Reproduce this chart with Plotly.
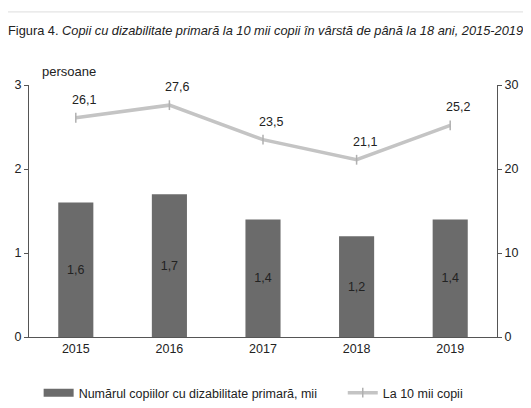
import plotly.graph_objects as go

years = ["2015", "2016", "2017", "2018", "2019"]
numar_copii = [1.6, 1.7, 1.4, 1.2, 1.4]
la_10_mii = [26.1, 27.6, 23.5, 21.1, 25.2]
bar_labels = ["1,6", "1,7", "1,4", "1,2", "1,4"]
line_labels = ["26,1", "27,6", "23,5", "21,1", "25,2"]

FONT = "Liberation Sans Narrow, Arial Narrow, Liberation Sans, sans-serif"
TXT = "#222222"
BAR_C = "#6b6b6b"
BAR_NAME = "Numărul copiilor cu dizabilitate primară, mii"

fig = go.Figure()
fig.add_trace(go.Bar(
    x=years, y=numar_copii, name=BAR_NAME, showlegend=False, legendgroup="bar",
    marker=dict(color=BAR_C, line=dict(width=0)), width=0.375,
    text=bar_labels, textposition="inside", insidetextanchor="middle",
    textfont=dict(color=TXT, size=12.5, family=FONT),
    yaxis="y",
))
# legend-only entry so the key is drawn as a wide rectangle like the original
fig.add_trace(go.Scatter(
    x=[None], y=[None], name=BAR_NAME + "\u00a0" * 6, mode="lines", legendgroup="bar",
    line=dict(color=BAR_C, width=8), hoverinfo="skip",
))
fig.add_trace(go.Scatter(
    x=years, y=la_10_mii, name="La 10 mii copii", mode="lines+markers",
    line=dict(color="#c4c4c4", width=3.5),
    marker=dict(symbol="line-ns", size=7, line=dict(color="#b0b0b0", width=1.5), color="#b0b0b0"),
    yaxis="y2",
))
for i, (v, t) in enumerate(zip(la_10_mii, line_labels)):
    fig.add_annotation(x=i, xref="x", y=v, yref="y2", text=t, showarrow=False,
                       yshift=18, xshift=8, font=dict(size=12.5, color=TXT, family=FONT))

fig.update_layout(
    width=523, height=400,
    margin=dict(l=21, r=34, t=77, b=71, autoexpand=False),
    paper_bgcolor="white", plot_bgcolor="white",
    font=dict(family=FONT, size=12.5, color=TXT),
    showlegend=True,
    legend=dict(orientation="h", x=0.48, xanchor="center", y=-0.163, yanchor="top",
                font=dict(size=12.5, family=FONT), tracegroupgap=0),
    xaxis=dict(type="category", range=[-0.5, 4.5], autorange=False, showline=True,
               linecolor="#555555", linewidth=1, ticks="",
               tickfont=dict(size=12.5), showgrid=False),
    yaxis=dict(range=[0, 3], tickvals=[0, 1, 2, 3], showline=True, linecolor="#555555",
               linewidth=1, ticks="outside", ticklen=4, tickcolor="#555555",
               showgrid=False, zeroline=False, tickfont=dict(size=12.5)),
    yaxis2=dict(range=[0, 30], tickvals=[0, 10, 20, 30], overlaying="y", side="right",
                showline=True, linecolor="#555555", linewidth=1, ticks="outside",
                ticklen=4, tickcolor="#555555", showgrid=False, zeroline=False,
                tickfont=dict(size=12.5)),
    annotations=list(fig.layout.annotations) + [
        dict(xref="paper", yref="paper", x=-0.05, y=1.218, xanchor="left", yanchor="middle",
             showarrow=False, align="left",
             text="Figura 4. <i>Copii cu dizabilitate primară la 10 mii copii în vârstă de până la 18 ani, 2015-2019</i>",
             font=dict(size=12.8, family=FONT, color=TXT)),
        dict(xref="paper", yref="paper", x=0.0235, y=1.052, xanchor="left", yanchor="middle",
             showarrow=False, text="persoane", font=dict(size=13, family=FONT, color=TXT)),
    ],
    shapes=[dict(type="rect", xref="paper", yref="paper", x0=-0.058, x1=1.2, y0=-0.5, y1=1.29,
                 line=dict(color="#dddddd", width=1))],
)

fig.write_html("out.html")
